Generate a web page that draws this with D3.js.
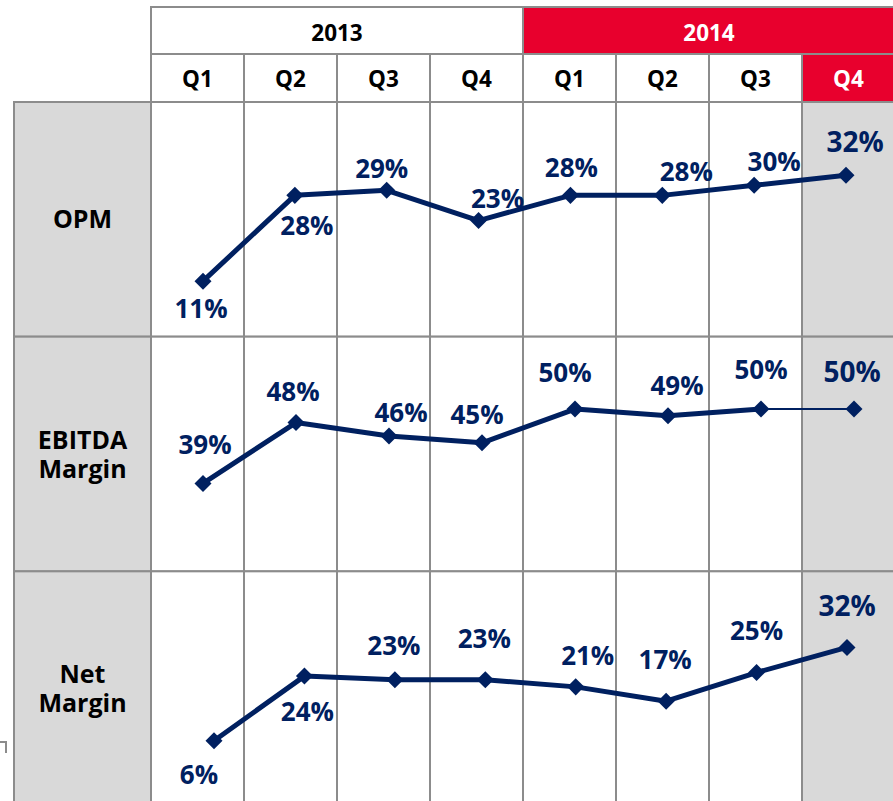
<!DOCTYPE html>
<html lang="en">
<head>
  <meta charset="UTF-8">
  <title>Margin Trend 2013-2014</title>
  <script src="https://d3js.org/d3.v7.min.js"></script>
  <style>
    body { margin: 0; background: #fff; }
    svg { display: block; font-family: "Open Sans", "Noto Sans", sans-serif; font-weight: bold; }
    .cell { stroke: #8c8c8c; stroke-width: 2px; }
    .head { font-size: 22.5px; fill: #000; text-anchor: middle; }
    .rowlabel { font-size: 25px; fill: #000; text-anchor: middle; }
    .val { font-size: 26px; fill: #002060; text-anchor: middle; }
    .val.last { font-size: 28px; }
  </style>
</head>
<body>

<svg width="893" height="801"></svg>

<script>
  // data
  const years = ["2013", "2014"];
  const quarters = ["Q1", "Q2", "Q3", "Q4", "Q1", "Q2", "Q3", "Q4"];
  const metrics = [["OPM"], ["EBITDA", "Margin"], ["Net", "Margin"]];
  const opm = [11, 28, 29, 23, 28, 28, 30, 32];
  const ebitda = [39, 48, 46, 45, 50, 49, 50, 50];
  const netMargin = [6, 24, 23, 23, 21, 17, 25, 32];

  // layout of each embedded mini chart (x range of points, y domain over the row)
  const rowLayout = [
    { values: opm,       x: [203, 846], y: [0, 46.5] },
    { values: ebitda,    x: [203, 854], y: [26, 60.7] },
    { values: netMargin, x: [214, 847], y: [-12.2, 53.2] }
  ];

  // label nudges [dx, dy] from each point to label baseline
  const labelNudge = [
    [[-2, 37], [12, 40], [-5, -12], [19, -13], [1, -18], [24, -14], [20, -14], [9, -23]],
    [[2, -29], [-3, -22], [12, -14], [-5, -19], [-10, -27], [9, -21], [0, -30], [-2, -27]],
    [[-15, 43], [3, 45], [-1, -25], [-1, -32], [12, -22], [-1, -32], [0, -33], [0, -31]]
  ];

  const RED = "#e8002d", NAVY = "#002060", GREY = "#d9d9d9";

  const svg = d3.select("svg");

  // column and row bands of the table
  const col = d3.scaleBand().domain(d3.range(8)).range([151, 895]);
  const yearBand = d3.scaleBand().domain(years).range([151, 895]);
  const row = d3.scaleBand().domain(d3.range(3)).range([102, 806]);

  // header row 1: years
  svg.selectAll(".yearcell")
    .data(years)
    .enter().append("rect")
    .attr("class", "cell")
    .attr("x", d => yearBand(d))
    .attr("y", 7)
    .attr("width", yearBand.bandwidth())
    .attr("height", 47)
    .attr("fill", (d, i) => i === 1 ? RED : "#fff");

  svg.selectAll(".yeartext")
    .data(years)
    .enter().append("text")
    .attr("class", "head")
    .attr("x", d => yearBand(d) + yearBand.bandwidth() / 2)
    .attr("y", 41)
    .style("fill", (d, i) => i === 1 ? "#fff" : "#000")
    .text(d => d);

  // header row 2: quarters
  svg.selectAll(".qcell")
    .data(quarters)
    .enter().append("rect")
    .attr("class", "cell")
    .attr("x", (d, i) => col(i))
    .attr("y", 54)
    .attr("width", col.bandwidth())
    .attr("height", 48)
    .attr("fill", (d, i) => i === 7 ? RED : "#fff");

  svg.selectAll(".qtext")
    .data(quarters)
    .enter().append("text")
    .attr("class", "head")
    .attr("x", (d, i) => col(i) + col.bandwidth() / 2)
    .attr("y", 87)
    .style("fill", (d, i) => i === 7 ? "#fff" : "#000")
    .text(d => d);

  // body cells and row labels
  metrics.forEach((m, r) => {
    svg.append("rect")
      .attr("class", "cell")
      .attr("x", 14)
      .attr("y", row(r))
      .attr("width", 137)
      .attr("height", row.bandwidth())
      .attr("fill", GREY);

    svg.selectAll(".bc" + r)
      .data(quarters)
      .enter().append("rect")
      .attr("class", "cell")
      .attr("x", (d, i) => col(i))
      .attr("y", row(r))
      .attr("width", col.bandwidth())
      .attr("height", row.bandwidth())
      .attr("fill", (d, i) => i === 7 ? GREY : "#fff");

    const mid = row(r) + row.bandwidth() / 2;
    const lh = 29;
    m.forEach((line, i) => {
      svg.append("text")
        .attr("class", "rowlabel")
        .attr("x", 82.5)
        .attr("y", mid + 9 + (i - (m.length - 1) / 2) * lh)
        .text(line);
    });
  });

  // small bracket mark at left edge
  svg.append("path")
    .attr("d", "M0,742H6V753")
    .attr("fill", "none")
    .attr("stroke", "#8c8c8c")
    .attr("stroke-width", 2);

  // lines, markers and labels
  const diamond = d3.symbol().type(d3.symbolSquare).size(145);

  rowLayout.forEach((L, r) => {
    const x = d3.scalePoint().domain(d3.range(8)).range(L.x);
    const y = d3.scaleLinear().domain(L.y).range([row(r) + row.bandwidth(), row(r)]);
    const pts = L.values.map((v, i) => [x(i), y(v)]);
    const segs = d3.pairs(pts);

    const g = svg.append("g");

    g.selectAll("line")
      .data(segs)
      .enter().append("line")
      .attr("x1", d => d[0][0])
      .attr("y1", d => d[0][1])
      .attr("x2", d => d[1][0])
      .attr("y2", d => d[1][1])
      .attr("stroke", NAVY)
      .attr("stroke-linecap", "round")
      .attr("stroke-width", (d, i) => (r === 1 && i === 6) ? 2 : 5);

    g.selectAll("path")
      .data(pts)
      .enter().append("path")
      .attr("d", diamond)
      .attr("fill", NAVY)
      .attr("transform", d => `translate(${d[0]},${d[1]}) rotate(45)`);

    g.selectAll("text")
      .data(L.values)
      .enter().append("text")
      .attr("class", (d, i) => i === 7 ? "val last" : "val")
      .attr("x", (d, i) => pts[i][0] + labelNudge[r][i][0])
      .attr("y", (d, i) => pts[i][1] + labelNudge[r][i][1])
      .text(d => d + "%");
  });
</script>

</body>
</html>
